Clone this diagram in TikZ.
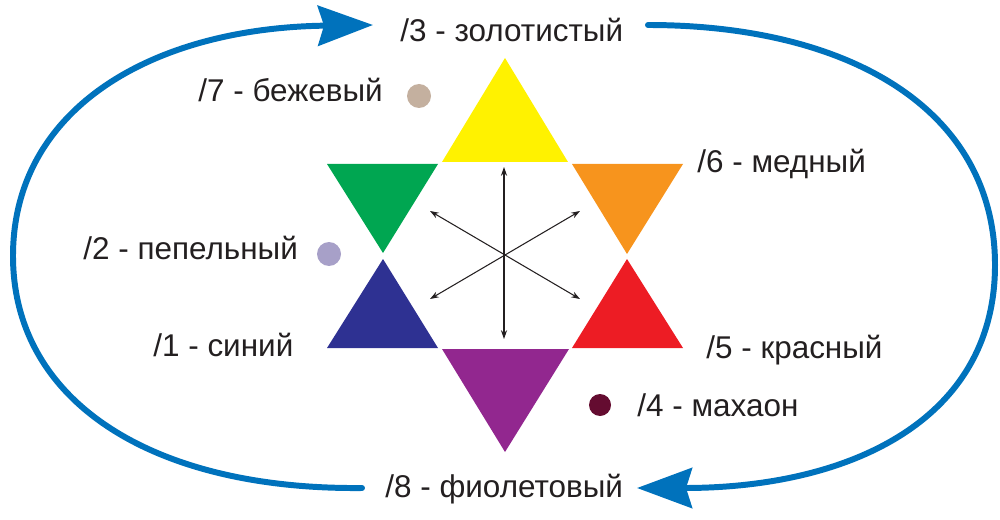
\documentclass[tikz,border=0pt]{standalone}
\usepackage{fontspec}
\setmainfont{Liberation Sans}
\usetikzlibrary{arrows.meta}
\definecolor{cyel}{HTML}{FFF200}
\definecolor{cgrn}{HTML}{00A651}
\definecolor{corg}{HTML}{F7941D}
\definecolor{cblu}{HTML}{2E3192}
\definecolor{cred}{HTML}{ED1C24}
\definecolor{cpur}{HTML}{92278F}
\definecolor{cbeige}{HTML}{C4B09F}
\definecolor{cash}{HTML}{A7A0C8}
\definecolor{cmach}{HTML}{640C30}
\definecolor{carc}{HTML}{0072BC}
\definecolor{ctxt}{HTML}{231F20}
\begin{document}
\begin{tikzpicture}[x=0.02cm,y=-0.02cm,line join=round,line cap=round,font=\fontsize{17.9}{21}\selectfont,
  lbl/.style={anchor=base west,inner sep=0pt,text=ctxt},
  loop/.style={line width=3.4pt,draw=carc,-{Stealth[length=1.1cm,width=0.8cm,inset=0.12cm]}},
  dbl/.style={line width=0.6pt,draw=ctxt,{Stealth[length=5pt,width=3.5pt]}-{Stealth[length=5pt,width=3.5pt]}}]
\useasboundingbox (0,0) rectangle (1000,520);
% treugolniki zvezdy
\fill[cyel] (442,162)--(505,58)--(568,162)--cycle;
\fill[cgrn] (327,164)--(438,164)--(383,253)--cycle;
\fill[corg] (572,164)--(683,164)--(627,254)--cycle;
\fill[cblu] (383,259)--(438,348)--(327,348)--cycle;
\fill[cred] (627,259)--(683,348)--(572,348)--cycle;
\fill[cpur] (442,349)--(569,349)--(505,452)--cycle;
% tochki
\fill[cbeige] (419,96) circle (12);
\fill[cash] (329,254) circle (12);
\fill[cmach] (600,405) circle (11);
% strelki v centre
\path
(504,167) coordinate (N)
(504,339) coordinate (S)
(430,211) coordinate (NW)
(580,299) coordinate (SE)
(580,211) coordinate (NE)
(430,299) coordinate (SW);
\draw[dbl] (N)--(S);
\draw[dbl] (NW)--(SE);
\draw[dbl] (NE)--(SW);
% podpisi
\node[lbl] (l3) at (400,42) {/3 - золотистый};
\node[lbl] (l7) at (198,102) {/7 - бежевый};
\node[lbl] (l6) at (697,173) {/6 - медный};
\node[lbl] (l2) at (83,259) {/2 - пепельный};
\node[lbl] (l1) at (153,356) {/1 - синий};
\node[lbl] (l5) at (706,358) {/5 - красный};
\node[lbl] (l4) at (637,416) {/4 - махаон};
\node[lbl] (l8) at (385,497) {/8 - фиолетовый};
% sinie dugi
\path
(362,488) coordinate (L0)
(373,25) coordinate (L1)
(648,25) coordinate (R0)
(637,488) coordinate (R1);
\draw[loop] (L0) .. controls (150,490) and (13,400) .. (13,256) .. controls (13,110) and (150,28) .. (L1);
\draw[loop] (R0) .. controls (850,25) and (995,110) .. (995,265) .. controls (995,420) and (850,488) .. (R1);
\end{tikzpicture}
\end{document}
